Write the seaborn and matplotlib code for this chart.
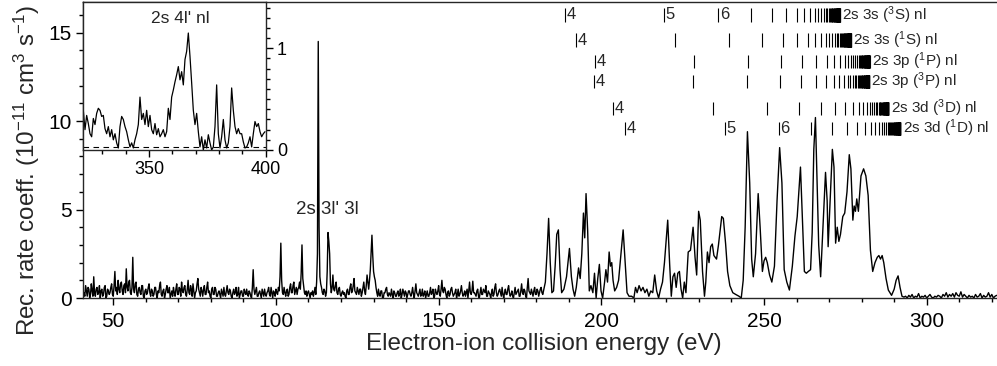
import numpy as np
import pandas as pd
import matplotlib
matplotlib.use("Agg")
import matplotlib.pyplot as plt
import seaborn as sns
from matplotlib.ticker import MultipleLocator

# --- measured rate coefficient (10^-11 cm^3 s^-1) ---
# low energy part, 0.25 eV grid starting at 41 eV (one row = 10 eV)
low_start = 41.0
low_step = 0.25
low_rate = [
    0.3, 0.1, 0.7, 0.4, 0.1, 0.6, 0.5, 0.0, 0.2, 0.8, 0.4, 0.1, 1.2, 0.3, 0.1, 0.5, 0.6, 0.2, 0.3, 0.7,
    0.0, 0.4, 0.5, 0.1, 0.2, 0.6, 0.7, 0.0, 0.1, 0.5, 0.4, 0.2, 0.3, 0.6, 0.8, 0.2, 0.1, 0.7, 1.5, 0.4,
    0.6, 0.2, 1.0, 0.5, 0.3, 0.8, 0.9, 0.4, 0.2, 0.7, 0.8, 0.3, 1.65, 0.6, 0.4, 0.9, 1.0, 0.3, 0.2, 0.6,
    2.3, 0.5, 0.3, 0.8, 0.9, 0.2, 0.1, 0.5, 0.6, 0.3, 0.2, 0.7, 0.7, 0.1, 0.0, 0.4, 0.5, 0.2, 0.3, 0.6,
    0.8, 0.3, 0.1, 0.5, 0.4, 0.1, 0.2, 0.6, 0.6, 0.2, 0.0, 0.4, 0.3, 0.7, 0.9, 0.2, 0.1, 0.4, 0.5, 0.0,
    0.2, 0.5, 0.7, 0.3, 0.3, 0.6, 0.0, 0.2, 0.4, 0.1, 0.6, 0.3, 0.1, 0.5, 0.8, 0.2, 0.2, 0.6, 0.5, 0.1,
    0.9, 0.4, 0.3, 0.6, 0.7, 0.2, 0.1, 0.5, 1.0, 0.3, 0.2, 0.7, 0.5, 0.1, 0.8, 0.4, 0.0, 0.3, 0.4, 0.8,
    1.1, 0.5, 0.3, 0.1, 0.6, 0.4, 0.1, 0.5, 0.7, 0.2, 0.2, 0.6, 0.9, 0.3, 0.4, 0.1, 0.0, 0.5, 0.6, 0.2,
    0.2, 0.6, 0.5, 0.1, 0.1, 0.3, 0.4, 0.2, 0.0, 0.5, 0.3, 0.1, 0.6, 0.2, 0.1, 0.4, 0.7, 0.3, 0.2, 0.5,
    0.4, 0.1, 0.0, 0.3, 0.5, 0.2, 0.3, 0.6, 0.1, 0.2, 0.6, 0.0, 0.2, 0.4, 0.4, 0.1, 0.1, 0.5, 0.3, 0.2,
    0.5, 0.2, 0.1, 0.4, 0.3, 0.1, 0.0, 0.6, 1.6, 0.5, 0.2, 0.4, 0.6, 0.1, 0.1, 0.3, 0.4, 0.2, 0.0, 0.5,
    0.3, 0.1, 0.5, 0.2, 0.1, 0.3, 0.4, 0.6, 0.2, 0.1, 0.6, 0.3, 0.0, 0.4, 0.3, 0.1, 0.5, 0.3, 0.2, 0.6,
    0.4, 1.2, 3.1, 1.0, 0.3, 0.2, 0.6, 0.3, 0.1, 0.4, 0.5, 0.1, 0.2, 0.6, 0.8, 0.3, 0.3, 0.7, 0.9, 0.2,
    0.4, 0.6, 0.2, 0.5, 0.6, 0.9, 0.5, 1.4, 3.0, 1.1, 0.7, 0.3, 0.2, 0.4, 0.1, 0.3, 0.4, 0.2, 0.0, 0.3,
    0.2, 0.4, 0.1, 0.3, 0.6, 0.2, 0.9, 2.5, 14.5, 4.0, 1.2, 0.8, 0.6, 0.3, 0.2, 0.5, 0.4, 0.1, 0.3, 1.5,
    3.7, 3.2, 2.5, 0.8, 0.3, 0.6, 1.3, 0.5, 0.4, 0.7, 0.9, 0.3, 0.2, 0.5, 0.6, 0.2, 0.1, 0.3, 0.4, 0.2,
    0.3, 0.1, 0.0, 0.4, 0.5, 0.2, 0.2, 0.6, 0.8, 0.3, 0.4, 0.7, 1.1, 0.4, 0.3, 0.2, 0.6, 0.4, 0.2, 0.5,
    0.5, 0.1, 0.3, 0.6, 0.9, 0.4, 0.2, 0.7, 1.3, 0.9, 0.5, 1.0, 1.6, 2.6, 3.55, 2.4, 1.5, 1.2, 1.0, 0.6,
    0.3, 0.1, 0.5, 0.2, 0.1, 0.4, 0.4, 0.0, 0.0, 0.3, 0.3, 0.5, 0.6, 0.2, 0.1, 0.3, 0.2, 0.1, 0.5, 0.2,
    0.0, 0.4, 0.3, 0.1, 0.1, 0.3, 0.4, 0.1, 0.2, 0.5, 0.0, 0.2, 0.5, 0.3, 0.1, 0.4, 0.3, 0.0, 0.2, 0.4,
    0.4, 0.2, 0.1, 0.3, 0.6, 0.2, 0.0, 0.4, 0.8, 0.3, 0.2, 0.1, 0.3, 0.5, 0.1, 0.2, 0.5, 0.1, 0.2, 0.4,
    0.0, 0.2, 0.4, 0.1, 0.1, 0.3, 0.6, 0.2, 0.3, 0.5, 0.0, 0.1, 0.5, 0.3, 0.2, 0.4, 0.7, 0.2, 0.1, 0.5,
    1.0, 0.4, 0.3, 0.6, 0.5, 0.2, 0.0, 0.3, 0.4, 0.1, 0.2, 0.5, 0.6, 0.3, 0.1, 0.2, 0.3, 0.5, 0.0, 0.2,
    0.5, 0.1, 0.2, 0.4, 0.7, 0.3, 0.1, 0.2, 0.4, 0.1, 0.3, 0.5, 0.0, 0.4, 0.9, 0.3, 0.2, 0.4, 0.95, 0.3,
    0.3, 0.2, 0.1, 0.4, 0.5, 0.1, 0.0, 0.3, 0.6, 0.2, 0.2, 0.5, 0.4, 0.3, 0.7, 0.1, 0.1, 0.4, 0.3, 0.2,
    0.0, 0.3, 0.5, 0.1, 0.2, 0.6, 0.8, 0.3, 0.1, 0.2, 0.4, 0.5, 0.3, 0.1, 0.6, 0.2, 0.0, 0.3, 0.5, 0.2,
    0.2, 0.5, 0.7, 0.3, 0.1, 0.2, 0.4, 0.1, 0.0, 0.3, 0.6, 0.2, 0.3, 0.4, 0.5, 0.1, 0.1, 0.4, 0.8, 0.3,
    0.2, 0.5, 0.4, 0.1, 0.0, 0.6, 1.1, 0.4, 0.3, 0.2, 0.5, 0.3, 0.1, 0.4, 0.6, 0.2, 0.2, 0.5, 0.4, 0.1,
    0.3, 0.5, 0.6, 0.3,
]

# resonance region, read point by point
res_energy = [
    182.0, 182.8, 183.3, 183.8, 184.3, 184.8, 185.3, 185.8, 186.3, 186.8, 187.3, 187.8, 188.5, 189.3,
    190.2, 190.8, 191.3, 191.8, 192.3, 193.0, 193.5, 194.0, 194.5, 194.9, 195.3, 195.8, 196.3, 196.8,
    197.4, 197.9, 198.4, 198.9, 199.4, 199.9, 200.4, 201.0, 201.4, 201.9, 202.4, 202.8, 203.2, 203.6,
    204.1, 204.7, 205.3, 205.9, 206.7, 207.3, 207.9, 208.5, 209.3, 210.0, 210.5, 211.0, 211.6, 212.2,
    212.8, 213.4, 214.0, 214.6, 215.2, 215.8, 216.4, 217.0, 217.6, 218.2, 218.8, 219.4, 220.4, 221.0,
    221.5, 222.0, 222.5, 223.0, 223.5, 224.0, 224.5, 225.0, 225.5, 226.0, 226.7, 227.4, 228.2, 228.8,
    229.3, 229.9, 230.4, 231.1, 231.7, 232.1, 232.6, 233.1, 233.6, 234.1, 234.6, 235.4, 236.0, 237.0,
    237.5, 238.2, 238.8, 239.5, 240.4, 241.3, 242.3, 243.0, 243.6, 244.2, 244.9, 245.6, 246.2, 246.7,
    247.4, 248.2, 248.8, 249.5, 250.0, 250.5, 251.0, 251.7, 252.4, 253.2, 254.0, 254.8, 255.5, 256.2,
    257.0, 257.8, 258.7, 259.5, 260.2, 261.2, 261.9, 262.4, 263.0, 263.6, 264.3, 264.8, 265.3, 265.8,
    266.3, 266.8, 267.4, 268.0, 268.9, 269.4, 269.7, 270.2, 271.0, 271.5, 272.0, 272.5, 273.0, 273.5,
    274.2, 274.8, 275.5, 276.2, 276.7, 277.3, 277.7, 278.1, 278.5, 279.0, 279.8, 280.6, 281.3, 282.0,
    282.7, 283.4, 284.1, 284.8, 285.3, 285.8, 286.3, 286.8, 287.5, 288.2, 289.2, 290.0, 290.6, 291.2,
    291.8, 292.4, 293.0,
]
res_rate = [
    0.2, 0.9, 2.5, 4.5, 2.0, 0.3, 0.4, 1.8, 3.6, 3.85, 1.6, 0.3, 0.5, 1.2,
    2.8, 1.2, 0.5, 0.1, 0.6, 1.7, 1.1, 2.5, 4.8, 3.4, 5.9, 3.8, 0.4, 0.7,
    0.3, 1.4, 0.0, 1.1, 1.9, 0.4, 0.0, 0.9, 1.6, 0.9, 2.6, 1.8, 2.0, 1.0,
    0.4, 0.6, 1.0, 2.2, 3.85, 2.1, 0.3, 0.1, 0.1, 0.0, 0.6, 0.3, 0.7, 0.4,
    0.6, 0.3, 0.5, 0.1, 0.4, 0.3, 1.3, 0.4, 0.0, 0.5, 0.9, 2.0, 4.4, 1.9,
    0.1, 1.2, 1.4, 0.6, 1.4, 1.5, 0.5, 0.0, 0.9, 0.3, 2.6, 2.7, 4.0, 2.3,
    1.3, 4.9, 4.4, 1.5, 0.1, 0.9, 2.6, 2.0, 2.9, 3.05, 2.4, 2.2, 3.0, 4.6,
    4.5, 3.05, 1.5, 0.7, 0.3, 0.2, 0.1, 0.0, 1.0, 4.0, 9.4, 6.5, 2.2, 1.2,
    2.5, 5.9, 4.0, 1.5, 2.1, 2.3, 2.0, 1.3, 0.9, 1.8, 5.5, 8.5, 6.5, 1.6,
    0.9, 0.45, 1.8, 3.5, 4.6, 7.4, 4.0, 1.5, 1.4, 1.5, 1.6, 3.7, 8.4, 10.2,
    6.5, 3.0, 1.2, 3.6, 7.1, 5.5, 2.9, 5.0, 8.4, 7.4, 3.1, 4.0, 3.2, 3.6,
    4.6, 4.8, 6.0, 8.1, 7.3, 4.4, 5.2, 4.9, 5.6, 4.9, 6.9, 7.3, 6.9, 5.8,
    2.7, 1.5, 2.0, 2.3, 2.4, 2.2, 2.4, 2.0, 1.1, 0.45, 0.15, 0.5, 1.0, 1.25,
    0.6, 0.1, 0.05,
]

# high energy tail, 0.5 eV grid
tail_start = 293.5
tail_step = 0.5
tail_rate = [
    0.1, 0.0, 0.15, 0.05, 0.2, 0.0, 0.1, 0.05, 0.25, 0.0, 0.1, 0.05, 0.15, 0.0, 0.1, 0.2, 0.05, 0.0, 0.1,
    0.05, 0.15, 0.1, 0.0, 0.2, 0.1, 0.3, 0.05, 0.2, 0.1, 0.25, 0.05, 0.3, 0.15, 0.1, 0.35, 0.05, 0.2, 0.1,
    0.0, 0.15, 0.05, 0.1, 0.0, 0.2, 0.05, 0.1, 0.25, 0.0, 0.15, 0.05, 0.1, 0.3, 0.05, 0.2, 0.0, 0.1, 0.15,
]

# inset: 2s 4l' nl region
inset_start = 321.84
inset_step = 0.714
inset_rate = [
    0.39, 0.20, 0.34, 0.26, 0.16, 0.13, 0.31, 0.25, 0.36, 0.41, 0.39, 0.33, 0.34, 0.21, 0.16, 0.23,
    0.13, 0.20, 0.10, 0.16, 0.07, 0.02, 0.23, 0.33, 0.30, 0.23, 0.18, 0.10, 0.03, 0.07, 0.02, 0.10,
    0.16, 0.25, 0.52, 0.30, 0.36, 0.25, 0.39, 0.23, 0.34, 0.20, 0.16, 0.26, 0.15, 0.21, 0.13, 0.16,
    0.20, 0.13, 0.18, 0.41, 0.30, 0.52, 0.59, 0.67, 0.74, 0.82, 0.69, 0.77, 0.64, 0.89, 0.97, 1.15,
    0.92, 0.66, 0.39, 0.25, 0.36, 0.18, 0.03, 0.13, 0.00, 0.10, 0.02, 0.15, 0.07, 0.00, 0.03, 0.23,
    0.64, 0.16, 0.02, 0.13, 0.30, 0.10, 0.02, 0.07, 0.23, 0.61, 0.39, 0.23, 0.16, 0.21, 0.16, 0.16,
    0.08, 0.02, 0.03, 0.07, 0.13, 0.03, 0.16, 0.28, 0.23, 0.26, 0.18, 0.13, 0.16, 0.18,
]
inset_background = 0.03

# Rydberg series of 2s 3l' nl resonances
series_labels = ["2s 3s ($^{3}$S) nl", "2s 3s ($^{1}$S) nl", "2s 3p ($^{1}$P) nl",
                 "2s 3p ($^{3}$P) nl", "2s 3d ($^{3}$D) nl", "2s 3d ($^{1}$D) nl"]
series_limits = [273.6, 277.0, 282.8, 282.6, 288.6, 292.2]
series_rows = [16.0, 14.58, 13.36, 12.23, 10.72, 9.59]
series_numbered = [[4, 5, 6], [4], [4], [4], [4], [4, 5, 6]]
rydberg_c = 1358.0
n_levels = list(range(4, 61))

sns.set_theme(style="ticks")
plt.rcParams["font.family"] = ["Liberation Sans", "DejaVu Sans"]
plt.rcParams["mathtext.fontset"] = "custom"
plt.rcParams["mathtext.rm"] = "Liberation Sans"
plt.rcParams["mathtext.it"] = "Liberation Sans:italic"
plt.rcParams["axes.linewidth"] = 1.0

low_x = low_start + low_step * np.arange(len(low_rate))
tail_x = tail_start + tail_step * np.arange(len(tail_rate))
spec = pd.DataFrame({
    "energy": np.concatenate([low_x, res_energy, tail_x]),
    "rate": np.concatenate([low_rate, res_rate, tail_rate]),
})
inset_df = pd.DataFrame({
    "energy": inset_start + inset_step * np.arange(len(inset_rate)),
    "rate": inset_rate,
})

fig = plt.figure(figsize=(9.97, 3.66), dpi=100)
ax = fig.add_axes([83 / 997, 1 - 298 / 366, 914 / 997, 296 / 366])

sns.lineplot(data=spec, x="energy", y="rate", ax=ax, color="black", lw=1.0,
             estimator=None, sort=False)
ax.set_xlim(40.7, 321.6)
ax.set_ylim(0, 16.73)
ax.spines["right"].set_visible(False)
ax.xaxis.set_major_locator(MultipleLocator(50))
ax.xaxis.set_minor_locator(MultipleLocator(10))
ax.yaxis.set_major_locator(MultipleLocator(5))
ax.yaxis.set_minor_locator(MultipleLocator(1))
ax.tick_params(which="major", direction="out", length=5, width=1.0, labelsize=15,
               color="black", labelcolor="black")
ax.tick_params(which="minor", direction="out", length=3, width=1.0, color="black")
ax.tick_params(axis="x", which="major", pad=5)
ax.tick_params(axis="y", which="major", pad=3)
ax.tick_params(top=False, right=False, which="both")

ax.set_xlabel("Electron-ion collision energy (eV)", fontsize=17.5)
ax.set_ylabel("Rec. rate coeff. (10$^{-11}$ cm$^{3}$ s$^{-1}$)", fontsize=17.4)
ax.xaxis.set_label_coords(0.504, -0.118)
ax.yaxis.set_label_coords(-0.045, 0.43)

ax.text(106.1, 4.75, "2s 3l' 3l", fontsize=13.5, ha="left", va="baseline")

# Rydberg markers
for label, lim, row, numbered in zip(series_labels, series_limits, series_rows, series_numbered):
    pos = [lim - rydberg_c / n ** 2 for n in n_levels]
    ax.vlines(pos, row - 0.38, row + 0.38, color="black", lw=0.8)
    for n in numbered:
        ax.text(lim - rydberg_c / n ** 2 + 0.5, row, str(n), fontsize=12,
                ha="left", va="center")
    ax.text(lim + 0.4, row, label, fontsize=11, ha="left", va="center")

# inset
ax_in = fig.add_axes([83 / 997, 1 - 150 / 366, 183 / 997, 148 / 366])
ax_in.set_facecolor("white")
sns.lineplot(data=inset_df, x="energy", y="rate", ax=ax_in, color="black", lw=0.9,
             estimator=None, sort=False)
ax_in.axhline(inset_background, color="black", lw=0.8, ls=(0, (5, 4)))
ax_in.set_xlim(321.7, 400.1)
ax_in.set_ylim(0, 1.455)
ax_in.set_xlabel("")
ax_in.set_ylabel("")
ax_in.yaxis.tick_right()
ax_in.xaxis.set_major_locator(MultipleLocator(50))
ax_in.xaxis.set_minor_locator(MultipleLocator(10))
ax_in.yaxis.set_major_locator(MultipleLocator(1))
ax_in.yaxis.set_minor_locator(MultipleLocator(0.1))
ax_in.tick_params(which="major", direction="out", length=5, width=1.0, labelsize=13,
                  color="black", labelcolor="black", pad=3)
ax_in.tick_params(which="minor", direction="out", length=3, width=1.0, color="black")
ax_in.tick_params(left=False, top=False, which="both")
ax_in.text(363.5, 1.246, "2s 4l' nl", fontsize=12.5, ha="center", va="baseline")

fig.savefig("out.png", dpi=100)
